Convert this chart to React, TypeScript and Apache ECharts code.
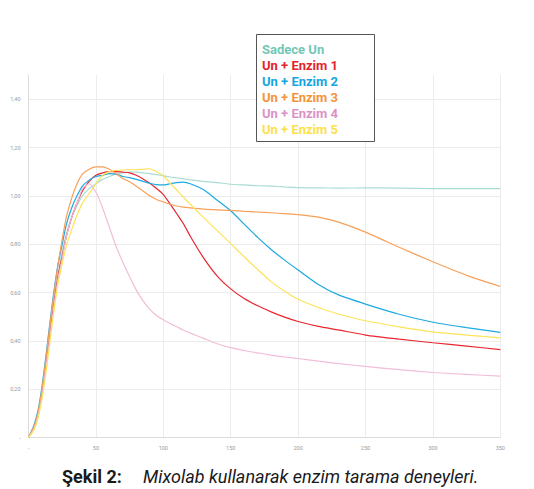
import React, { useEffect, useRef } from "react";
import * as echarts from "echarts";

const xs = [0, 4, 7, 10, 13, 16, 19, 22, 25, 28, 32, 36, 40, 45, 50, 55, 60, 65, 70, 75, 80, 85, 90, 95, 100, 105, 110, 115, 120, 130, 140, 150, 160, 170, 180, 190, 200, 215, 230, 250, 275, 300, 325, 350];

const sadeceUn = [0, 0.04, 0.095, 0.19, 0.31, 0.44, 0.57, 0.68, 0.77, 0.84, 0.91, 0.96, 1.0, 1.03, 1.05, 1.068, 1.08, 1.09, 1.095, 1.098, 1.098, 1.095, 1.092, 1.088, 1.083, 1.078, 1.074, 1.07, 1.066, 1.06, 1.055, 1.048, 1.045, 1.042, 1.04, 1.037, 1.034, 1.033, 1.032, 1.033, 1.032, 1.03, 1.03, 1.03];
const enzim1 = [0, 0.04, 0.09, 0.18, 0.3, 0.43, 0.56, 0.67, 0.75, 0.83, 0.91, 0.97, 1.02, 1.06, 1.085, 1.095, 1.1, 1.1, 1.098, 1.095, 1.085, 1.07, 1.052, 1.03, 1.005, 0.967, 0.926, 0.884, 0.833, 0.742, 0.668, 0.615, 0.575, 0.545, 0.52, 0.498, 0.48, 0.46, 0.445, 0.424, 0.407, 0.392, 0.378, 0.364];
const enzim2 = [0, 0.05, 0.11, 0.21, 0.34, 0.48, 0.61, 0.72, 0.8, 0.88, 0.95, 1.0, 1.04, 1.065, 1.08, 1.085, 1.092, 1.09, 1.08, 1.075, 1.068, 1.06, 1.052, 1.046, 1.045, 1.05, 1.055, 1.057, 1.05, 1.025, 0.982, 0.938, 0.883, 0.828, 0.778, 0.734, 0.693, 0.633, 0.59, 0.552, 0.51, 0.477, 0.455, 0.435];
const enzim3 = [0, 0.045, 0.1, 0.2, 0.33, 0.47, 0.6, 0.72, 0.82, 0.91, 0.99, 1.05, 1.09, 1.11, 1.12, 1.12, 1.11, 1.092, 1.072, 1.058, 1.04, 1.02, 1.0, 0.985, 0.975, 0.965, 0.958, 0.953, 0.95, 0.945, 0.942, 0.94, 0.936, 0.933, 0.93, 0.926, 0.922, 0.912, 0.891, 0.85, 0.787, 0.727, 0.671, 0.625];
const enzim4 = [0, 0.035, 0.085, 0.17, 0.29, 0.42, 0.55, 0.66, 0.74, 0.83, 0.91, 0.97, 1.03, 1.05, 1.015, 0.95, 0.87, 0.79, 0.725, 0.665, 0.61, 0.565, 0.53, 0.505, 0.487, 0.472, 0.458, 0.444, 0.432, 0.41, 0.388, 0.372, 0.36, 0.35, 0.341, 0.333, 0.327, 0.316, 0.306, 0.294, 0.281, 0.269, 0.261, 0.254];
const enzim5 = [0, 0.03, 0.08, 0.16, 0.27, 0.4, 0.53, 0.64, 0.72, 0.79, 0.86, 0.92, 0.97, 1.01, 1.05, 1.085, 1.1, 1.105, 1.107, 1.108, 1.108, 1.11, 1.112, 1.1, 1.083, 1.053, 1.024, 0.994, 0.965, 0.91, 0.856, 0.802, 0.748, 0.695, 0.645, 0.605, 0.572, 0.538, 0.511, 0.483, 0.458, 0.437, 0.424, 0.412];

const seriesNames = ["Sadece Un", "Un + Enzim 1", "Un + Enzim 2", "Un + Enzim 3", "Un + Enzim 4", "Un + Enzim 5"];
const seriesValues = [sadeceUn, enzim1, enzim2, enzim3, enzim4, enzim5];
const lineColors = ["#a9ddd4", "#e8262f", "#1ca9e1", "#f7a05a", "#f1bdd8", "#fde35a"];
const legendColors = ["#74c7b7", "#e3242b", "#14a6e0", "#f5933b", "#da92c6", "#fde04a"];

const captionBold = "Şekil 2:";
const captionText = "Mixolab kullanarak enzim tarama deneyleri.";

export default function App() {
  const ref = useRef<HTMLDivElement>(null);
  useEffect(() => {
    document.body.style.margin = "0";
    const chart = echarts.init(ref.current!, null, { renderer: "svg" });
    const legendItems: any[] = seriesNames.map((n, i) => ({
      type: "text",
      left: 262,
      top: 43 + i * 16,
      style: {
        text: n,
        fill: legendColors[i],
        font: "bold 13px Roboto",
      },
    }));
    chart.setOption({
      animation: false,
      backgroundColor: "#fff",
      grid: { left: 28.5, right: 33.7, top: 75, bottom: 51.5 },
      xAxis: {
        type: "value",
        min: 0,
        max: 350,
        interval: 50,
        axisLine: { show: true, lineStyle: { color: "#dcdcdc" } },
        axisTick: { show: false },
        splitLine: { show: true, lineStyle: { color: "#ececec" } },
        axisLabel: {
          color: "#9a9a9a",
          fontSize: 5.5,
          margin: 7,
          fontFamily: "Roboto",
          formatter: (v: number) => (v === 0 ? "-" : String(v)),
        },
      },
      yAxis: {
        type: "value",
        min: 0,
        max: 1.5,
        interval: 0.2,
        axisLine: { show: true, lineStyle: { color: "#dcdcdc" } },
        axisTick: { show: false },
        splitLine: { show: true, showMaxLine: false, lineStyle: { color: "#ececec" } },
        axisLabel: {
          color: "#9a9a9a",
          fontSize: 5.5,
          margin: 8,
          fontFamily: "Roboto",
          showMaxLabel: false,
          formatter: (v: number) => (v === 0 ? "-" : v.toFixed(2).replace(".", ",")),
        },
      },
      series: seriesValues.map((vals, i) => ({
        name: seriesNames[i],
        type: "line",
        showSymbol: false,
        smooth: 0.2,
        data: xs.map((x, j) => [x, vals[j]]),
        lineStyle: { color: lineColors[i], width: 1.2 },
        itemStyle: { color: lineColors[i] },
        z: i === 0 ? 1 : 2 + i,
      })),
      graphic: [
        {
          type: "rect",
          left: 256,
          top: 34,
          shape: { width: 118, height: 107 },
          style: { fill: "#fff", stroke: "#555", lineWidth: 1 },
          z: 100,
        },
        ...legendItems.map((t) => ({ ...t, z: 101 })),
        {
          type: "text",
          left: 62,
          top: 467,
          style: { text: captionBold, fill: "#1a1a1a", font: "bold 18px Roboto" },
        },
        {
          type: "text",
          left: 143,
          top: 467,
          style: { text: captionText, fill: "#1a1a1a", font: "italic 18px Roboto" },
        },
      ],
    });
    return () => chart.dispose();
  }, []);
  return <div ref={ref} style={{ width: 534, height: 489 }} />;
}
